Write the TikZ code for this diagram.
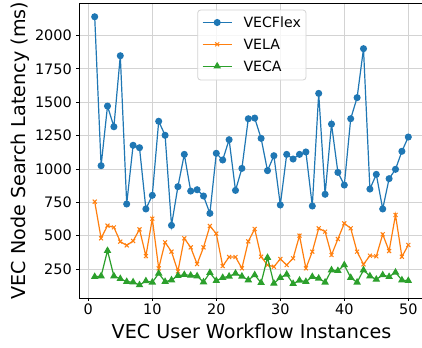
\documentclass[tikz,border=0pt]{standalone}
\usepackage{fontspec}
\setmainfont{DejaVu Sans}
\usetikzlibrary{plotmarks}
\definecolor{cblue}{HTML}{1F77B4}
\definecolor{corange}{HTML}{FF7F0E}
\definecolor{cgreen}{HTML}{2CA02C}
\definecolor{cgrid}{HTML}{D3D3D3}
\tikzset{
  sblue/.style={color=cblue, line width=1.2bp, mark=*, mark size=2.9bp},
  sorange/.style={color=corange, line width=1.2bp, mark=x, mark size=2.8bp, mark options={line width=1bp}},
  sgreen/.style={color=cgreen, line width=1.2bp, mark=triangle*, mark size=3.2bp},
  gridline/.style={draw=cgrid, line width=0.8bp},
  ticklab/.style={inner sep=0pt, font=\fontsize{14.5}{17}\selectfont},
  axlab/.style={inner sep=0pt, font=\fontsize{19.2}{22}\selectfont},
  leglab/.style={inner sep=0pt, anchor=base west, font=\fontsize{14.2}{17}\selectfont},
}
\begin{document}
\begin{tikzpicture}[x=1bp, y=-1bp]
\clip (0,0) rectangle (422,348);
\fill[white] (0,0) rectangle (422,348);
\begin{scope}[shift={(88.3,302.37)}, x=6.4bp, y=0.13347bp]
  % grid
  \foreach \i in {0,10,...,50} \draw[gridline] (\i,33) -- (\i,2240);
  \foreach \v in {250,500,...,2000} \draw[gridline] (-1.45,\v) -- (52.45,\v);
  % ticks and tick labels
  \foreach \i in {0,10,...,50} {
    \draw[black, line width=0.8bp] (\i,33) -- ++(0,-3.5bp);
    \node[ticklab, anchor=north] (xt\i) at ([yshift=-6bp]\i,33) {\i};
  }
  \foreach \v in {250,500,...,2000} {
    \draw[black, line width=0.8bp] (-1.45,\v) -- ++(-3.5bp,0);
    \node[ticklab, anchor=east] (yt\v) at ([xshift=-7bp]-1.45,\v) {\v};
  }
  % series
  \draw[sblue] plot coordinates {(1,2140) (2,1024) (3,1471) (4,1316) (5,1848) (6,737) (7,1177) (8,1159) (9,700) (10,802) (11,1357) (12,1252) (13,577) (14,867) (15,1109) (16,834) (17,844) (18,797) (19,667) (20,1117) (21,1067) (22,1219) (23,839) (24,1004) (25,1376) (26,1381) (27,1229) (28,987) (29,1099) (30,730) (31,1109) (32,1074) (33,1109) (34,1127) (35,722) (36,1566) (37,810) (38,1336) (39,974) (40,879) (41,1376) (42,1534) (43,1901) (44,849) (45,959) (46,700) (47,927) (48,997) (49,1132) (50,1239)};
  \draw[sorange] plot coordinates {(1,755) (2,480) (3,575) (4,562) (5,455) (6,427) (7,460) (8,547) (9,347) (10,627) (11,255) (12,450) (13,380) (14,232) (15,480) (16,412) (17,287) (18,412) (19,572) (20,515) (21,272) (22,340) (23,340) (24,255) (25,457) (26,550) (27,342) (28,280) (29,267) (30,325) (31,280) (32,330) (33,500) (34,255) (35,380) (36,555) (37,530) (38,355) (39,475) (40,592) (41,555) (42,380) (43,285) (44,350) (45,345) (46,510) (47,385) (48,655) (49,342) (50,430)};
  \draw[sgreen] plot coordinates {(1,192) (2,197) (3,387) (4,197) (5,177) (6,155) (7,152) (8,130) (9,160) (10,150) (11,217) (12,155) (13,167) (14,200) (15,207) (16,202) (17,197) (18,152) (19,222) (20,162) (21,185) (22,195) (23,217) (24,195) (25,167) (26,205) (27,147) (28,335) (29,142) (30,185) (31,210) (32,140) (33,165) (34,155) (35,192) (36,180) (37,150) (38,242) (39,237) (40,280) (41,185) (42,150) (43,242) (44,197) (45,172) (46,205) (47,192) (48,225) (49,167) (50,162)};
  % frame
  \draw[black, line width=0.8bp] (-1.45,33) rectangle (52.45,2240);
\end{scope}
% axis labels
\node[axlab, anchor=base] (xlabel) at (251.5,338) {VEC User Workflow Instances};
\node[axlab, anchor=base, rotate=90] (ylabel) at (25,150.6) {VEC Node Search Latency (ms)};
% legend
\draw[draw=cgrid, fill=white, fill opacity=0.8, rounded corners=3bp, line width=0.8bp] (197.7,10) rectangle (306,80);
\draw[cblue, line width=1.2bp] (202.7,22.5) -- (231.7,22.5);
\draw[sblue] plot[only marks] coordinates {(217.2,22.5)};
\node[leglab] (l1) at (243.3,27.7) {VECFlex};
\draw[corange, line width=1.2bp] (202.7,44.3) -- (231.7,44.3);
\draw[sorange] plot[only marks] coordinates {(217.2,44.3)};
\node[leglab] (l2) at (243.3,49.5) {VELA};
\draw[cgreen, line width=1.2bp] (202.7,66.2) -- (231.7,66.2);
\draw[sgreen] plot[only marks] coordinates {(217.2,66.2)};
\node[leglab] (l3) at (243.3,71.4) {VECA};
\end{tikzpicture}
\end{document}
